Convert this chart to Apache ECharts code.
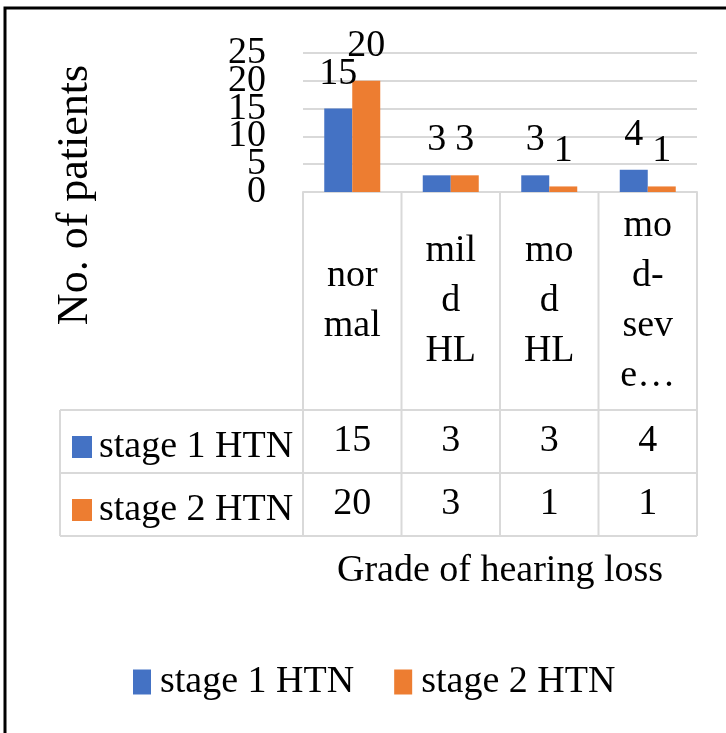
<!DOCTYPE html>
<html><head><meta charset="utf-8">
<script src="https://cdn.jsdelivr.net/npm/echarts@6/dist/echarts.min.js"></script>
<style>html,body{margin:0;padding:0;background:#fff}#c{width:726px;height:733px}</style>
</head><body><div id="c"></div>
<script>
const categories = ['nor\nmal', 'mil\nd\nHL', 'mo\nd\nHL', 'mo\nd-\nsev\ne\u2026'];
const seriesNames = ['stage 1 HTN', 'stage 2 HTN'];
const stage1 = [15, 3, 3, 4];
const stage2 = [20, 3, 1, 1];
const yMin = 0, yMax = 25, yStep = 5;
const xTitle = 'Grade of hearing loss';
const yTitle = 'No. of patients';

const FONT = "'Liberation Serif','Times New Roman',serif";
const BLUE = '#4472C4', ORANGE = '#ED7D31', GRID = '#d9d9d9';
// layout
const L = 303, R = 697, T = 53, B = 192;
const tableL = 60, row1 = 410, row2 = 473, row3 = 536;
const colW = (R - L) / categories.length;

const lines = [];
function ln(x1, y1, x2, y2) {
  lines.push({type: 'line', shape: {x1, y1, x2, y2}, style: {stroke: GRID, lineWidth: 2}, silent: true});
}
for (let i = 0; i <= categories.length; i++) ln(L + colW * i, B, L + colW * i, row3);
ln(tableL, row1, R, row1); ln(tableL, row2, R, row2); ln(tableL, row3, R, row3);
ln(tableL, row1, tableL, row3);

const txt = {fontFamily: FONT, color: '#000'};
// the tick labels overlap in the reference; split them over two axes so none is hidden
function yAxisDef(even, showSplit) {
  return {type: 'value', min: yMin, max: yMax, interval: yStep, position: 'left',
    axisLine: {show: false}, axisTick: {show: false},
    splitLine: {show: showSplit, lineStyle: {color: GRID, width: 2}},
    axisLabel: Object.assign({margin: 37, fontSize: 38,
      showMinLabel: even, showMaxLabel: !even,
      formatter: v => ((Math.round(v / yStep) % 2 === 0) === even ? String(v) : '')}, txt)};
}
const chart = echarts.init(document.getElementById('c'));
chart.setOption({
  animation: false,
  backgroundColor: '#fff',
  grid: {left: L, right: 726 - R, top: T, bottom: 733 - B, containLabel: false},
  xAxis: [
    {type: 'category', data: categories,
     axisLine: {lineStyle: {color: GRID, width: 2}}, axisTick: {show: false},
     axisLabel: Object.assign({interval: 0, margin: (row1 - B) / 2, verticalAlign: 'middle', fontSize: 38, lineHeight: 50}, txt),
     name: xTitle, nameLocation: 'middle', nameGap: 379,
     nameTextStyle: Object.assign({fontSize: 38, verticalAlign: 'middle'}, txt)},
    {type: 'category', data: categories, position: 'bottom', offset: (row1 + row2) / 2 - B,
     axisLine: {show: false}, axisTick: {show: false},
     axisLabel: Object.assign({interval: 0, margin: 0, verticalAlign: 'middle', fontSize: 38, formatter: (v, i) => String(stage1[i])}, txt)},
    {type: 'category', data: categories, position: 'bottom', offset: (row2 + row3) / 2 - B,
     axisLine: {show: false}, axisTick: {show: false},
     axisLabel: Object.assign({interval: 0, margin: 0, verticalAlign: 'middle', fontSize: 38, formatter: (v, i) => String(stage2[i])}, txt)}
  ],
  yAxis: [yAxisDef(true, true), yAxisDef(false, false)],
  legend: [
    {data: seriesNames, orient: 'horizontal', left: 128, top: 655, icon: 'rect',
     itemWidth: 18, itemHeight: 25, itemGap: 40,
     textStyle: Object.assign({fontSize: 38, lineHeight: 44, padding: [0, 0, 0, 4]}, txt)},
    {data: seriesNames, orient: 'vertical', left: 67, top: 420, icon: 'rect',
     itemWidth: 20, itemHeight: 22, itemGap: 19,
     textStyle: Object.assign({fontSize: 38, lineHeight: 44, padding: [0, 0, 0, 2]}, txt)}
  ],
  series: [
    {name: seriesNames[0], type: 'bar', data: stage1, barWidth: 28, barGap: '0%',
     itemStyle: {color: BLUE},
     label: Object.assign({show: true, position: 'top', distance: 16, fontSize: 38}, txt)},
    {name: seriesNames[1], type: 'bar', data: stage2, barWidth: 28, barGap: '0%',
     itemStyle: {color: ORANGE},
     label: Object.assign({show: true, position: 'top', distance: 16, fontSize: 38}, txt)}
  ],
  graphic: [
    {type: 'rect', shape: {x: 5, y: 8, width: 900, height: 900}, style: {fill: 'none', stroke: '#000', lineWidth: 3}, silent: true, z: 100},
    {type: 'text', x: 75, y: 195, rotation: Math.PI / 2,
     style: {text: yTitle, fontSize: 44, fontFamily: FONT, fill: '#000', align: 'center', verticalAlign: 'middle', textAlign: 'center', textVerticalAlign: 'middle'}},
    ...lines
  ]
});
</script></body></html>
